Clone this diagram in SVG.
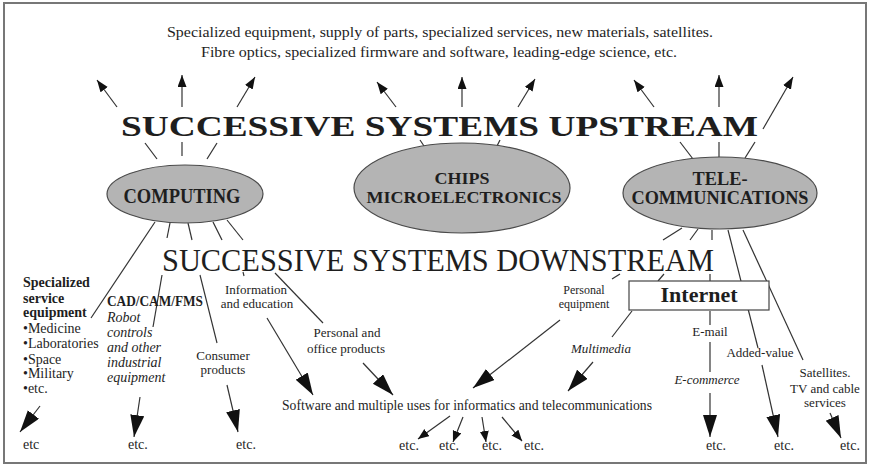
<svg xmlns="http://www.w3.org/2000/svg" width="869" height="467" viewBox="0 0 869 467">
  <style>
    text { font-family: "Liberation Serif", "Times New Roman", serif; fill: #1e1e1e; }
    .t { font-size: 14px; }
    .s { font-size: 13px; }
    .b { font-weight: bold; }
    .i { font-style: italic; }
    .m { text-anchor: middle; }
    .ell { fill: #b4b4b4; stroke: #4a4a4a; stroke-width: 1.2; }
    .ln { stroke: #333; stroke-width: 1.2; fill: none; }
    .up { marker-end: url(#headS); }
    .dn { marker-end: url(#headL); }
    .sm { marker-end: url(#headM); }
  </style>
  <defs>
    <marker id="headS" markerUnits="userSpaceOnUse" markerWidth="13" markerHeight="10" refX="12" refY="4.5" orient="auto">
      <path d="M0,0 L12,4.5 L0,9 z" fill="#111"/>
    </marker>
    <marker id="headM" markerUnits="userSpaceOnUse" markerWidth="13" markerHeight="10" refX="11" refY="4.5" orient="auto">
      <path d="M0,0 L11,4.5 L0,9 z" fill="#111"/>
    </marker>
    <marker id="headL" markerUnits="userSpaceOnUse" markerWidth="23" markerHeight="15" refX="22" refY="7" orient="auto">
      <path d="M0,0 L22,7 L0,14 z" fill="#111"/>
    </marker>
  </defs>

  <rect x="0" y="0" width="869" height="467" fill="#fff"/>
  <rect x="4" y="3" width="862" height="460" fill="none" stroke="#777" stroke-width="2"/>

  <!-- header lines -->
  <g id="header">
    <text class="t" x="167" y="37" textLength="546" lengthAdjust="spacingAndGlyphs">Specialized equipment, supply of parts, specialized services, new materials, satellites.</text>
    <text class="t" x="201" y="57" textLength="476" lengthAdjust="spacingAndGlyphs">Fibre optics, specialized firmware and software, leading-edge science, etc.</text>
  </g>

  <!-- connectors -->
  <g id="connectors">
    <!-- upstream arrows -->
    <line class="ln up" x1="117" y1="107" x2="97" y2="80"/>
    <line class="ln up" x1="182" y1="107" x2="182" y2="75"/>
    <line class="ln up" x1="237" y1="107" x2="255" y2="77"/>
    <line class="ln up" x1="396" y1="107" x2="377" y2="82"/>
    <line class="ln up" x1="462" y1="107" x2="462" y2="77"/>
    <line class="ln up" x1="518" y1="107" x2="535" y2="79"/>
    <line class="ln up" x1="654" y1="107" x2="634" y2="80"/>
    <line class="ln up" x1="719" y1="107" x2="719" y2="75"/>
    <line class="ln up" x1="763" y1="129" x2="793" y2="77"/>

    <!-- stubs between upstream title and nodes -->
    <line class="ln" x1="145" y1="143" x2="157" y2="159"/>
    <line class="ln" x1="182" y1="142" x2="182" y2="156"/>
    <line class="ln" x1="217" y1="143" x2="207" y2="159"/>
    <line class="ln" x1="420" y1="140" x2="424" y2="146"/>
    <line class="ln" x1="500" y1="140" x2="497" y2="146"/>
    <line class="ln" x1="680" y1="142" x2="693" y2="159"/>
    <line class="ln" x1="719" y1="142" x2="719" y2="157"/>
    <line class="ln" x1="755" y1="142" x2="745" y2="158"/>

    <!-- computing downstream -->
    <line class="ln" x1="155" y1="222" x2="91" y2="318"/>
    <line class="ln" x1="170" y1="223" x2="167" y2="238"/>
    <line class="ln" x1="188" y1="223" x2="192" y2="240"/>
    <line class="ln" x1="213" y1="222" x2="222" y2="240"/>
    <line class="ln" x1="227" y1="220" x2="243" y2="240"/>
    <line class="ln" x1="162" y1="275" x2="153" y2="327"/>
    <line class="ln" x1="200" y1="275" x2="217" y2="343"/>
    <line class="ln" x1="275" y1="273" x2="323" y2="323"/>
    <line class="ln" x1="243" y1="272" x2="244" y2="276"/>

    <!-- telecom downstream -->
    <line class="ln" x1="682" y1="228" x2="663" y2="240"/>
    <line class="ln" x1="698" y1="229" x2="690" y2="240"/>
    <line class="ln" x1="712" y1="230" x2="712" y2="240"/>
    <line class="ln" x1="728" y1="230" x2="758" y2="348"/>
    <line class="ln" x1="743" y1="230" x2="803" y2="360"/>
    <line class="ln" x1="620" y1="274" x2="612" y2="279"/>
    <line class="ln" x1="664" y1="274" x2="658" y2="281"/>
    <line class="ln" x1="710" y1="274" x2="710" y2="281"/>
    <line class="ln" x1="632" y1="311" x2="612" y2="337"/>
    <line class="ln" x1="710" y1="311" x2="710" y2="325"/>
    <line class="ln" x1="710" y1="342" x2="710" y2="372"/>

    <!-- downstream arrows -->
    <line class="ln dn" x1="40" y1="406" x2="20" y2="432"/>
    <line class="ln dn" x1="140" y1="397" x2="134" y2="437"/>
    <line class="ln dn" x1="227" y1="385" x2="238" y2="432"/>
    <line class="ln dn" x1="267" y1="318" x2="313" y2="395"/>
    <line class="ln dn" x1="363" y1="363" x2="393" y2="395"/>
    <line class="ln dn" x1="560" y1="320" x2="473" y2="388"/>
    <line class="ln dn" x1="593" y1="362" x2="568" y2="391"/>
    <line class="ln dn" x1="710" y1="393" x2="710" y2="437"/>
    <line class="ln dn" x1="762" y1="365" x2="778" y2="437"/>
    <line class="ln dn" x1="830" y1="413" x2="841" y2="438"/>

    <!-- arrows from the shared software line -->
    <line class="ln sm" x1="450" y1="416" x2="418" y2="439"/>
    <line class="ln sm" x1="463" y1="417" x2="453" y2="442"/>
    <line class="ln sm" x1="482" y1="417" x2="486" y2="442"/>
    <line class="ln sm" x1="502" y1="417" x2="522" y2="441"/>
  </g>

  <!-- titles -->
  <g id="upstream-title">
    <text class="b" x="121" y="136" font-size="30" textLength="637" lengthAdjust="spacingAndGlyphs">SUCCESSIVE SYSTEMS UPSTREAM</text>
  </g>
  <g id="downstream-title">
    <text x="162" y="271" font-size="31" textLength="552" lengthAdjust="spacingAndGlyphs">SUCCESSIVE SYSTEMS DOWNSTREAM</text>
  </g>

  <!-- core nodes -->
  <g id="computing">
    <ellipse class="ell" cx="185" cy="194" rx="78" ry="29"/>
    <text class="b m" x="182" y="203" font-size="21" textLength="117" lengthAdjust="spacingAndGlyphs">COMPUTING</text>
  </g>
  <g id="chips">
    <ellipse class="ell" cx="462" cy="188" rx="108" ry="45"/>
    <text class="b m" x="462" y="184" font-size="17" textLength="55" lengthAdjust="spacingAndGlyphs">CHIPS</text>
    <text class="b m" x="464" y="203" font-size="17" textLength="195" lengthAdjust="spacingAndGlyphs">MICROELECTRONICS</text>
  </g>
  <g id="telecom">
    <ellipse class="ell" cx="720" cy="193" rx="97" ry="36"/>
    <text class="b m" x="720" y="185" font-size="18" textLength="55" lengthAdjust="spacingAndGlyphs">TELE-</text>
    <text class="b m" x="720" y="204" font-size="18" textLength="177" lengthAdjust="spacingAndGlyphs">COMMUNICATIONS</text>
  </g>
  <g id="internet">
    <rect x="629" y="281" width="140" height="29" fill="#fff" stroke="#444" stroke-width="1.2"/>
    <text class="b m" x="699" y="302" font-size="21" textLength="77" lengthAdjust="spacingAndGlyphs">Internet</text>
  </g>

  <!-- downstream labels -->
  <g id="specialized-service">
    <text class="t b" x="23" y="287">Specialized</text>
    <text class="t b" x="23" y="303">service</text>
    <text class="t b" x="23" y="317">equipment</text>
    <text class="t" x="23" y="333">•Medicine</text>
    <text class="t" x="23" y="348">•Laboratories</text>
    <text class="t" x="23" y="364">•Space</text>
    <text class="t" x="23" y="378">•Military</text>
    <text class="t" x="23" y="393">•etc.</text>
    <text class="t" x="23" y="449">etc</text>
  </g>
  <g id="cad-cam">
    <text class="t b" x="107" y="306" textLength="96" lengthAdjust="spacingAndGlyphs">CAD/CAM/FMS</text>
    <text class="t i" x="107" y="322">Robot</text>
    <text class="t i" x="107" y="337">controls</text>
    <text class="t i" x="107" y="352">and other</text>
    <text class="t i" x="107" y="367">industrial</text>
    <text class="t i" x="107" y="382">equipment</text>
    <text class="t" x="128" y="449">etc.</text>
  </g>
  <g id="information">
    <text class="s m" x="256" y="294">Information</text>
    <text class="s m" x="257" y="308">and education</text>
  </g>
  <g id="consumer">
    <text class="s m" x="223" y="360">Consumer</text>
    <text class="s m" x="223" y="374">products</text>
    <text class="t m" x="246" y="449">etc.</text>
  </g>
  <g id="personal-office">
    <text class="s m" x="347" y="337">Personal and</text>
    <text class="s m" x="346" y="353">office products</text>
  </g>
  <g id="personal-equipment">
    <text class="m" x="584" y="294" font-size="12">Personal</text>
    <text class="m" x="584" y="308" font-size="12">equipment</text>
  </g>
  <g id="multimedia">
    <text class="s i m" x="601" y="353">Multimedia</text>
  </g>
  <g id="software">
    <text class="t" x="282" y="410" textLength="370" lengthAdjust="spacingAndGlyphs">Software and multiple uses for informatics and telecommunications</text>
    <text class="t m" x="409" y="450">etc.</text>
    <text class="t m" x="449" y="450">etc.</text>
    <text class="t m" x="492" y="450">etc.</text>
    <text class="t m" x="534" y="450">etc.</text>
  </g>
  <g id="email">
    <text class="s m" x="710" y="336">E-mail</text>
    <text class="s i m" x="707" y="384">E-commerce</text>
    <text class="t m" x="716" y="450">etc.</text>
  </g>
  <g id="added-value">
    <text class="s m" x="760" y="357">Added-value</text>
    <text class="t m" x="784" y="450">etc.</text>
  </g>
  <g id="satellites">
    <text class="s m" x="825" y="377">Satellites.</text>
    <text class="s m" x="825" y="393">TV and cable</text>
    <text class="s m" x="825" y="407">services</text>
    <text class="t m" x="850" y="450">etc.</text>
  </g>
</svg>
